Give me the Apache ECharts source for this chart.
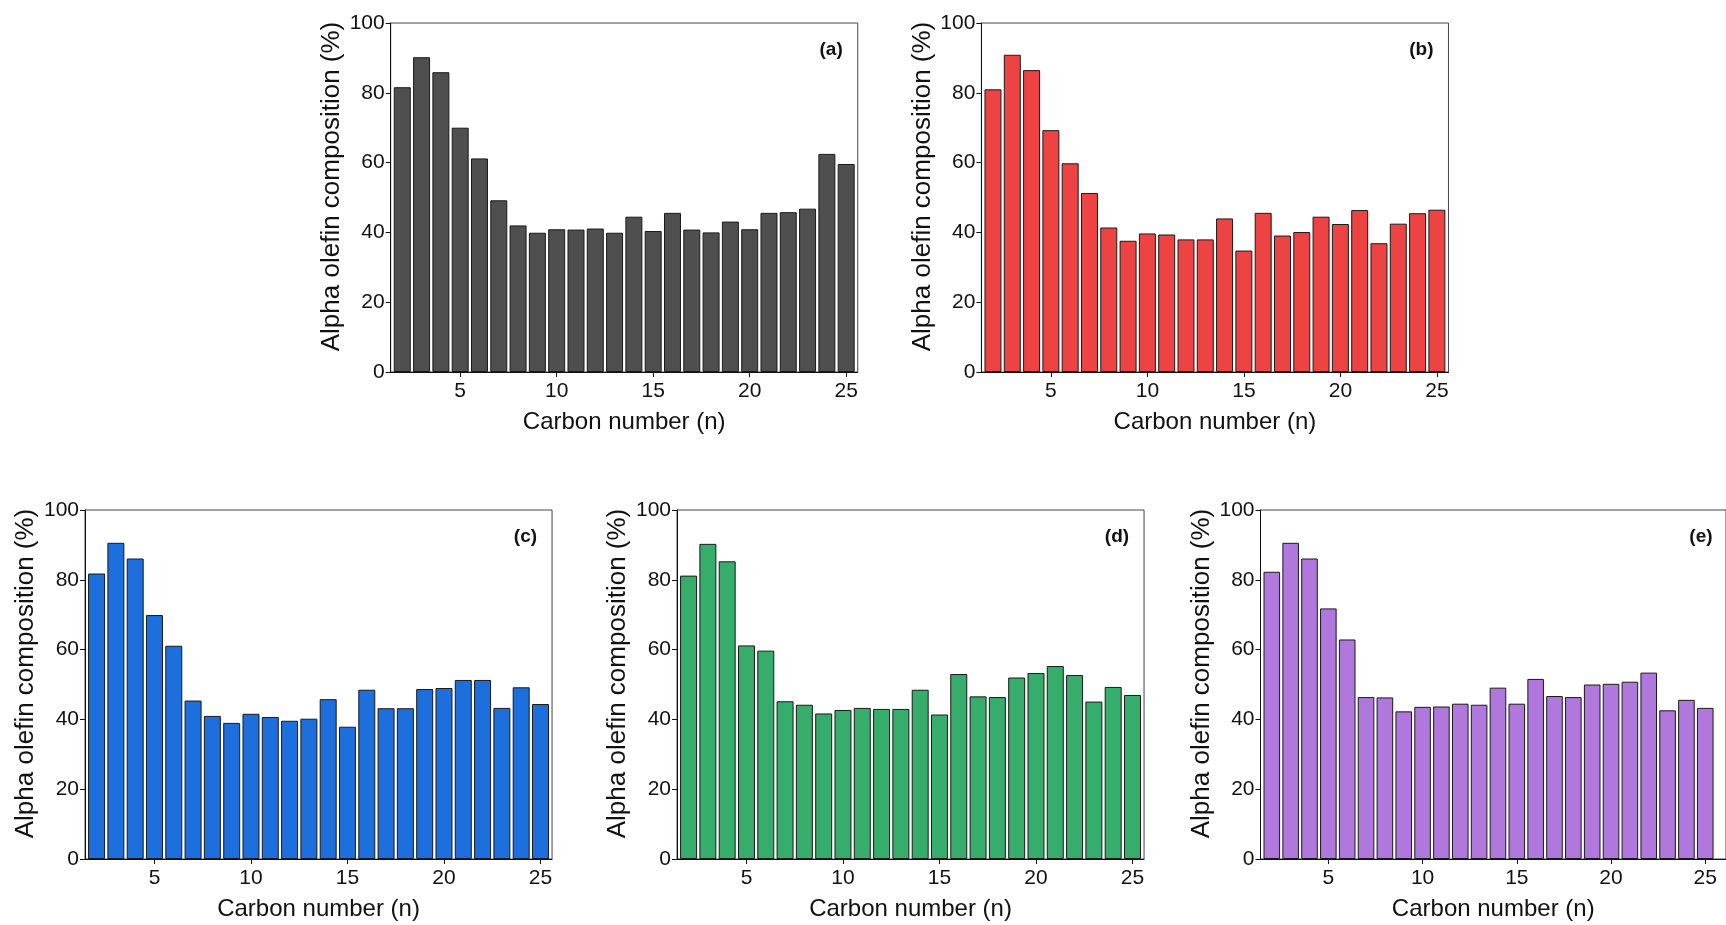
<!DOCTYPE html>
<html>
<head>
<meta charset="utf-8">
<script src="https://cdn.jsdelivr.net/npm/echarts@6/dist/echarts.min.js"></script>
<style>
html,body{margin:0;padding:0;background:#fff;}
#chart{width:1726px;height:925px;}
</style>
</head>
<body>
<div id="chart"></div>
<script>
// ---- data ----
const carbonNumbers = [2,3,4,5,6,7,8,9,10,11,12,13,14,15,16,17,18,19,20,21,22,23,24,25];
const seriesA = [81.6,90.2,85.9,70.0,61.2,49.2,42.0,39.9,40.9,40.8,41.1,39.9,44.5,40.4,45.6,40.8,40.0,43.1,40.9,45.6,45.8,46.8,62.5,59.6];
const seriesB = [81.0,90.9,86.5,69.3,59.8,51.3,41.4,37.6,39.7,39.4,38.0,38.0,44.0,34.8,45.6,39.1,40.1,44.5,42.4,46.4,36.9,42.5,45.5,46.5];
const seriesC = [81.8,90.6,86.1,69.9,61.1,45.4,41.0,39.0,41.6,40.7,39.6,40.2,45.8,37.9,48.5,43.2,43.2,48.7,49.0,51.3,51.3,43.3,49.2,44.4];
const seriesD = [81.2,90.3,85.3,61.2,59.7,45.2,44.2,41.7,42.7,43.3,43.0,43.0,48.5,41.4,53.0,46.6,46.4,52.0,53.3,55.3,52.7,45.1,49.3,47.0];
const seriesE = [82.3,90.6,86.1,71.8,62.9,46.4,46.3,42.3,43.6,43.7,44.5,44.2,49.1,44.5,51.6,46.7,46.4,50.0,50.2,50.8,53.4,42.6,45.6,43.3];
const xTickValues = [5,10,15,20,25];
const yTickValues = [0,20,40,60,80,100];
const panelLabels = ['(a)','(b)','(c)','(d)','(e)'];
const xTitle = 'Carbon number (n)';
const yTitle = 'Alpha olefin composition (%)';

// ---- layout / style ----
const unitPx = 19.3;
const panels = [
  {values: seriesA, color: '#4f4f4f', left: 390.7, top: 23,  xMax: 25.6},
  {values: seriesB, color: '#ee4343', left: 981.4, top: 23,  xMax: 25.6},
  {values: seriesC, color: '#1c6fdd', left: 85,    top: 510, xMax: 25.6},
  {values: seriesD, color: '#36ad6a', left: 677,   top: 510, xMax: 25.6},
  {values: seriesE, color: '#b077dd', left: 1260.5,top: 510, xMax: 26.1}
];
const xMin = 1.4;
const gridH = 349;
const FONT = '"Liberation Sans", Arial, Helvetica, sans-serif';

const grids = [], xAxes = [], yAxes = [], series = [];
panels.forEach((p, i) => {
  const w = (p.xMax - xMin) * unitPx;
  p.w = w;
  grids.push({left: p.left, top: p.top, width: w, height: gridH, show: true,
    borderColor: '#444', borderWidth: 1, backgroundColor: 'transparent', containLabel: false});
  xAxes.push({
    type: 'value', gridIndex: i, min: xMin, max: p.xMax,
    name: xTitle, nameLocation: 'middle', nameGap: 38,
    nameTextStyle: {fontFamily: FONT, fontSize: 24, color: '#111'},
    axisLine: {show: true, onZero: false, lineStyle: {color: '#111', width: 1}},
    axisTick: {show: true, inside: false, length: 5, customValues: xTickValues, lineStyle: {color: '#111'}},
    axisLabel: {show: true, margin: 9, customValues: xTickValues, fontFamily: FONT, fontSize: 21, color: '#111'},
    splitLine: {show: false}
  });
  yAxes.push({
    type: 'value', gridIndex: i, min: 0, max: 100, interval: 20,
    name: yTitle, nameLocation: 'middle', nameGap: 46, nameRotate: 90,
    nameTextStyle: {fontFamily: FONT, fontSize: 26, color: '#111', padding: [0, 0, 0, 22]},
    axisLine: {show: true, onZero: false, lineStyle: {color: '#111', width: 1}},
    axisTick: {show: true, inside: false, length: 5, lineStyle: {color: '#111'}},
    axisLabel: {show: true, margin: 6, fontFamily: FONT, fontSize: 21, color: '#111',
      formatter: v => (yTickValues.indexOf(v) >= 0 ? String(v) : '')},
    splitLine: {show: false}
  });
  series.push({
    type: 'bar', xAxisIndex: i, yAxisIndex: i,
    data: carbonNumbers.map((c, k) => [c, p.values[k]]),
    barWidth: '88%',
    itemStyle: {color: p.color, borderColor: '#1a1a1a', borderWidth: 1},
    animation: false, silent: true
  });
});

const chart = echarts.init(document.getElementById('chart'), null, {renderer: 'canvas'});
chart.setOption({
  backgroundColor: '#fff',
  animation: false,
  grid: grids, xAxis: xAxes, yAxis: yAxes, series: series,
  graphic: panels.map((p, i) => ({
    type: 'text',
    x: p.left + (25.6 - xMin) * unitPx - 15, y: p.top + 27,
    style: {text: panelLabels[i], font: 'bold 19px ' + FONT, fill: '#111', textAlign: 'right', textVerticalAlign: 'middle'}
  }))
});
</script>
</body>
</html>
